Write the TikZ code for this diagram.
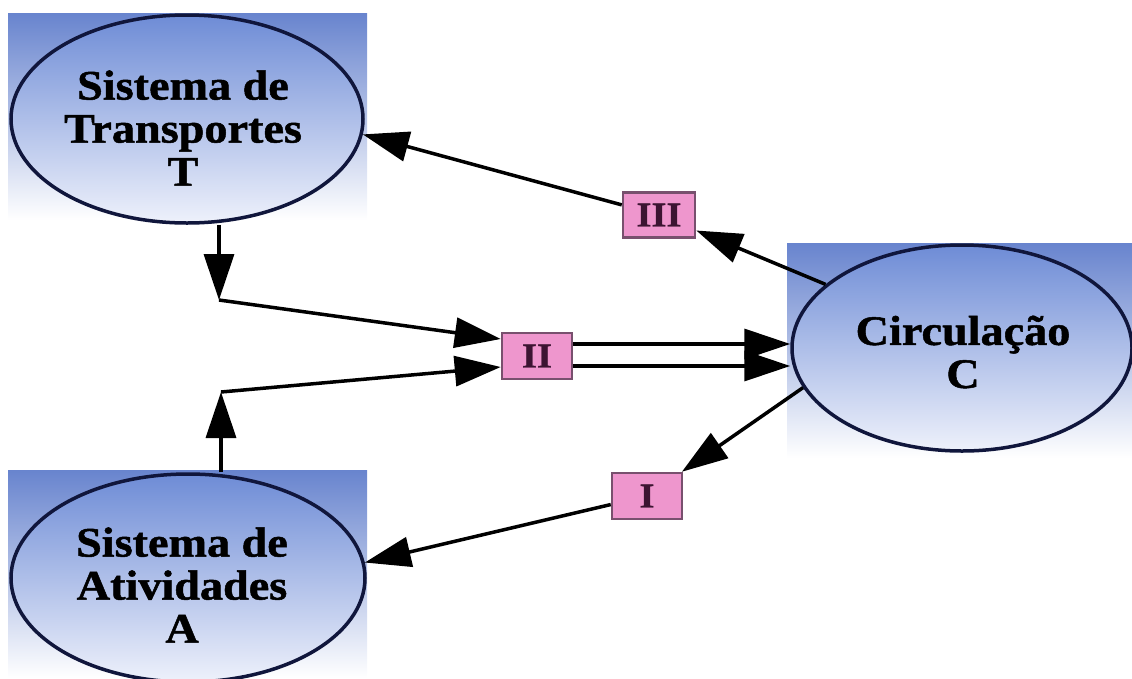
\documentclass[tikz,border=0pt]{standalone}
\usepackage{fontspec}
\setmainfont{Liberation Serif}[FakeStretch=1.1,BoldFeatures={FakeBold=1.2}]
\usetikzlibrary{arrows.meta,shapes.geometric,calc}

\definecolor{bgblue}{RGB}{104,132,206}
\definecolor{elblue}{RGB}{110,140,214}
\definecolor{ellow}{RGB}{238,241,251}
\definecolor{navy}{RGB}{16,22,60}
\definecolor{boxpink}{RGB}{238,150,205}
\definecolor{boxedge}{RGB}{120,80,110}
\definecolor{numcol}{RGB}{60,20,50}

\tikzset{
  panel/.style={top color=bgblue, bottom color=white, draw=none},
  bubble/.style={ellipse, draw=navy, line width=3.5pt, top color=elblue,
    bottom color=ellow, inner sep=0pt},
  lbl/.style={font=\bfseries\fontsize{42}{43}\selectfont, align=center,
    text=black, inner sep=0pt},
  numbox/.style={draw=boxedge, line width=2.5pt, fill=boxpink,
    minimum width=70pt, minimum height=46pt, inner sep=0pt,
    font=\bfseries\fontsize{35}{36}\selectfont, text=numcol},
  arr/.style={line width=3.5pt, -{Triangle[length=46pt,width=30pt]}},
}

\begin{document}
\begin{tikzpicture}[x=1pt,y=-1pt]
\useasboundingbox (0,0) rectangle (1132,678);
\clip (0,0) rectangle (1132,678);

% background panels
\fill[panel] (8,13) rectangle (367,220);
\fill[panel] (787,243) rectangle (1132,458);
\fill[panel] (8,470) rectangle (367,678);

% ellipses
\node[bubble, minimum width=352pt, minimum height=208pt] (T) at (187,119) {};
\node[bubble, minimum width=340pt, minimum height=206pt] (C) at (962,348) {};
\node[bubble, minimum width=354pt, minimum height=208pt] (A) at (188,578) {};

\node[lbl] (Tt) at (183,128) {Sistema de\\Transportes\\T};
\node[lbl] (Ct) at (963,352) {Circulação\\C};
\node[lbl] (At) at (182,585) {Sistema de\\Atividades\\A};

% boxes
\node[numbox, minimum width=72pt, minimum height=45pt] (b3) at (659,215) {III};
\node[numbox] (b2) at (537,356) {II};
\node[numbox] (b1) at (647,496) {I};

\coordinate (cT) at (219,300);
\coordinate (cA) at (221,392);

% connectors
\draw[arr] (cT |- T.south) -- (cT);
\draw[arr] (cT) -- ([yshift=17pt]b2.west);
\draw[arr] (cA |- A.north) -- (cA);
\draw[arr] (cA) -- ([yshift=-11pt]b2.west);
\draw[arr] ([yshift=12pt]b2.east) -- ([yshift=12pt]b2.east -| C.west);
\draw[arr] ([yshift=-10pt]b2.east) -- ([yshift=-10pt]b2.east -| C.west);
\draw[arr] (C.155) -- (b3);
\draw[arr] (b3) -- (T.-5);
\draw[arr] (C.194) -- (b1);
\draw[arr] (b1) -- (A.5);
\end{tikzpicture}
\end{document}
